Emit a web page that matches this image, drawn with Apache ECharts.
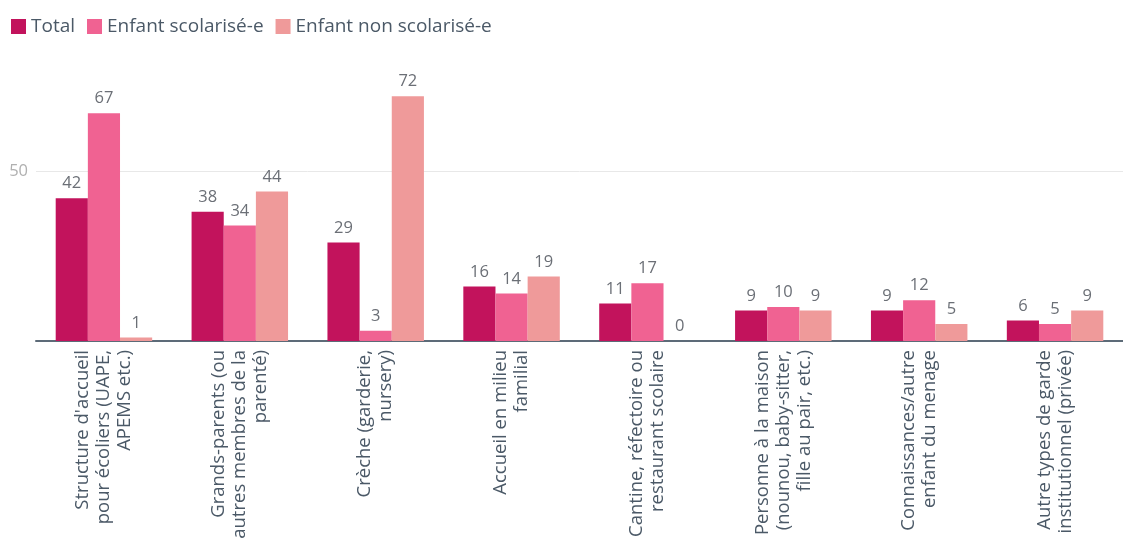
<!DOCTYPE html>
<html>
<head>
<meta charset="utf-8">
<script src="https://cdn.jsdelivr.net/npm/echarts@6/dist/echarts.min.js"></script>
<style>
  html, body { margin: 0; padding: 0; background: #fff; }
  #chart { width: 1123px; height: 538px; }
</style>
</head>
<body>
<div id="chart"></div>
<script>
const categories = [
  'Structure d\'accueil\npour écoliers (UAPE,\nAPEMS etc.)',
  'Grands-parents (ou\nautres membres de la\nparenté)',
  'Crèche (garderie,\nnursery)',
  'Accueil en milieu\nfamilial',
  'Cantine, réfectoire ou\nrestaurant scolaire',
  'Personne à la maison\n(nounou, baby-sitter,\nfille au pair, etc.)',
  'Connaissances/autre\nenfant du menage',
  'Autre types de garde\ninstitutionnel (privée)'
]
const total = [42, 38, 29, 16, 11, 9, 9, 6]
const scolarise = [67, 34, 3, 14, 17, 10, 12, 5]
const nonScolarise = [1, 44, 72, 19, 0, 9, 5, 9]

const font = '"Open Sans", "Noto Sans", sans-serif'
const valueLabel = {
  show: true,
  position: 'top',
  distance: 6,
  color: '#6b6f76',
  fontSize: 16.5,
  fontFamily: font
}

const chart = echarts.init(document.getElementById('chart'))
chart.setOption({
  animation: false,
  legend: {
    left: 6,
    top: 12,
    itemWidth: 15,
    itemHeight: 15,
    itemGap: 12,
    icon: 'rect',
    textStyle: { color: '#4b5967', fontSize: 19, fontFamily: font },
    data: ['Total', 'Enfant scolarisé-e', 'Enfant non scolarisé-e']
  },
  grid: { left: 36, right: 0, top: 1, bottom: 197, outerBoundsMode: 'none', containLabel: false },
  xAxis: {
    type: 'category',
    data: categories,
    axisTick: { show: false },
    axisLine: { lineStyle: { color: '#5d6b78', width: 2 } },
    axisLabel: {
      rotate: 90,
      interval: 0,
      margin: 9,
      color: '#4b5967',
      fontSize: 18.5,
      lineHeight: 21,
      fontFamily: font,
      align: 'right'
    }
  },
  yAxis: {
    type: 'value',
    min: 0,
    max: 100,
    interval: 50,
    axisLine: { show: false },
    axisTick: { show: false },
    axisLabel: {
      showMinLabel: false,
      showMaxLabel: false,
      color: '#b0b0b0',
      fontSize: 16.5,
      fontFamily: font,
      margin: 8
    },
    splitLine: { lineStyle: { color: ['rgba(0,0,0,0)', '#e8e8e8', 'rgba(0,0,0,0)'] } }
  },
  series: [
    {
      name: 'Total',
      type: 'bar',
      data: total,
      itemStyle: { color: '#c2135c' },
      label: valueLabel,
      barGap: '0%',
      barCategoryGap: '29%'
    },
    {
      name: 'Enfant scolarisé-e',
      type: 'bar',
      data: scolarise,
      itemStyle: { color: '#f06292' },
      label: valueLabel
    },
    {
      name: 'Enfant non scolarisé-e',
      type: 'bar',
      data: nonScolarise,
      itemStyle: { color: '#ef9a9a' },
      label: valueLabel
    }
  ]
})
</script>
</body>
</html>
